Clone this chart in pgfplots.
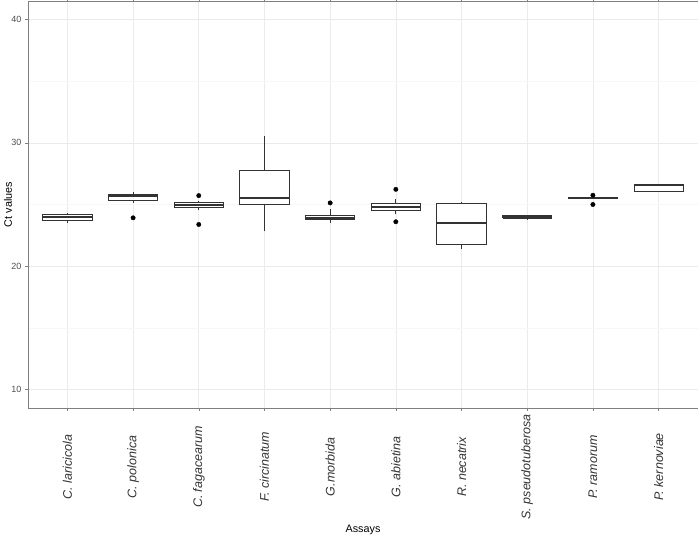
\documentclass[border=0pt]{standalone}
\usepackage{pgfplots}
\pgfplotsset{compat=1.18}
\usepackage{fontspec}
\setmainfont{Liberation Sans}
\definecolor{gridmaj}{HTML}{EBEBEB}
\definecolor{gridmin}{HTML}{F7F7F7}
\definecolor{border}{HTML}{7F7F7F}
\definecolor{boxline}{HTML}{333333}
\definecolor{ticktext}{HTML}{4D4D4D}
\begin{document}
\begin{tikzpicture}
\begin{axis}[
  scale only axis, width=670bp, height=407bp,
  xmin=-0.6, xmax=9.6, ymin=8.5, ymax=41.5,
  xtick={0,...,9},
  xticklabels={C. laricicola, C. polonica, C. fagacearum, F. circinatum, G.morbida, G. abietina, R. necatrix, S. pseudotuberosa, P. ramorum, P. kernoviae},
  ytick={10,20,30,40},
  minor ytick={15,25,35},
  grid=both,
  major grid style={gridmaj, line width=0.6bp},
  minor grid style={gridmin, line width=0.4bp},
  minor tick length=0pt,
  major tick length=3bp,
  tick align=outside,
  tick style={border, line width=0.5bp},
  axis line style={border, line width=0.6bp},
  /pgf/number format/assume math mode=true,
  yticklabel style={font=\fontsize{9bp}{10bp}\selectfont, text=ticktext},
  xticklabel style={font=\fontsize{12.5bp}{14bp}\selectfont\itshape, text=boxline, yshift=-56bp, rotate=90, anchor=center},
  xlabel={Assays}, ylabel={Ct values},
  xlabel style={font=\fontsize{10.8bp}{12bp}\selectfont, at={(axis description cs:0.5,0)}, anchor=center, yshift=-122bp},
  ylabel style={font=\fontsize{10.8bp}{12bp}\selectfont, at={(axis description cs:0,0.5)}, anchor=center, yshift=20bp},
  unbounded coords=jump,
]
% whiskers (lower whisker to upper whisker, drawn behind the boxes)
\addplot[draw=boxline, line width=0.9bp, mark=none] coordinates {
 (0,23.46) (0,24.30) (0,nan)
 (1,25.13) (1,25.99) (1,nan)
 (2,24.59) (2,25.29) (2,nan)
 (3,22.82) (3,30.54) (3,nan)
 (4,23.49) (4,24.62) (4,nan)
 (5,24.22) (5,25.43) (5,nan)
 (6,21.39) (6,25.21) (6,nan)
 (7,23.76) (7,24.16) (7,nan)
 (8,25.48) (8,25.58) (8,nan)
 (9,26.05) (9,26.66)
};
% boxes (lower quartile to upper quartile, width 0.75)
\addplot[draw=boxline, fill=white, line width=0.9bp, mark=none] coordinates {
 (-0.375,23.68) (0.375,23.68) (0.375,24.19) (-0.375,24.19) (-0.375,23.68) (0,nan)
 (0.625,25.29) (1.375,25.29) (1.375,25.78) (0.625,25.78) (0.625,25.29) (1,nan)
 (1.625,24.75) (2.375,24.75) (2.375,25.13) (1.625,25.13) (1.625,24.75) (2,nan)
 (2.625,24.97) (3.375,24.97) (3.375,27.79) (2.625,27.79) (2.625,24.97) (3,nan)
 (3.625,23.76) (4.375,23.76) (4.375,24.08) (3.625,24.08) (3.625,23.76) (4,nan)
 (4.625,24.54) (5.375,24.54) (5.375,25.10) (4.625,25.10) (4.625,24.54) (5,nan)
 (5.625,21.74) (6.375,21.74) (6.375,25.10) (5.625,25.10) (5.625,21.74) (6,nan)
 (6.625,23.87) (7.375,23.87) (7.375,24.08) (6.625,24.08) (6.625,23.87) (7,nan)
 (7.625,25.50) (8.375,25.50) (8.375,25.56) (7.625,25.56) (7.625,25.50) (8,nan)
 (8.625,26.05) (9.375,26.05) (9.375,26.66) (8.625,26.66) (8.625,26.05)
};
% medians
\addplot[draw=boxline, line width=1.9bp, mark=none] coordinates {
 (-0.375,23.97) (0.375,23.97) (0,nan)
 (0.625,25.67) (1.375,25.67) (1,nan)
 (1.625,24.94) (2.375,24.94) (2,nan)
 (2.625,25.53) (3.375,25.53) (3,nan)
 (3.625,23.87) (4.375,23.87) (4,nan)
 (4.625,24.83) (5.375,24.83) (5,nan)
 (5.625,23.52) (6.375,23.52) (6,nan)
 (6.625,23.97) (7.375,23.97) (7,nan)
 (7.625,25.53) (8.375,25.53) (8,nan)
 (8.625,26.61) (9.375,26.61)
};
% outliers
\addplot[only marks, mark=*, mark size=2.2bp, mark options={fill=black, draw=black}] coordinates {
 (1,23.92) (2,25.72) (2,23.38) (4,25.13) (5,26.23) (5,23.60) (8,25.75) (8,25.00)
};
\end{axis}
\pgfresetboundingbox
\path[use as bounding box] ([xshift=-28bp,yshift=-129bp]current axis.south west) rectangle ([yshift=1bp]current axis.north east);
\end{tikzpicture}
\end{document}
